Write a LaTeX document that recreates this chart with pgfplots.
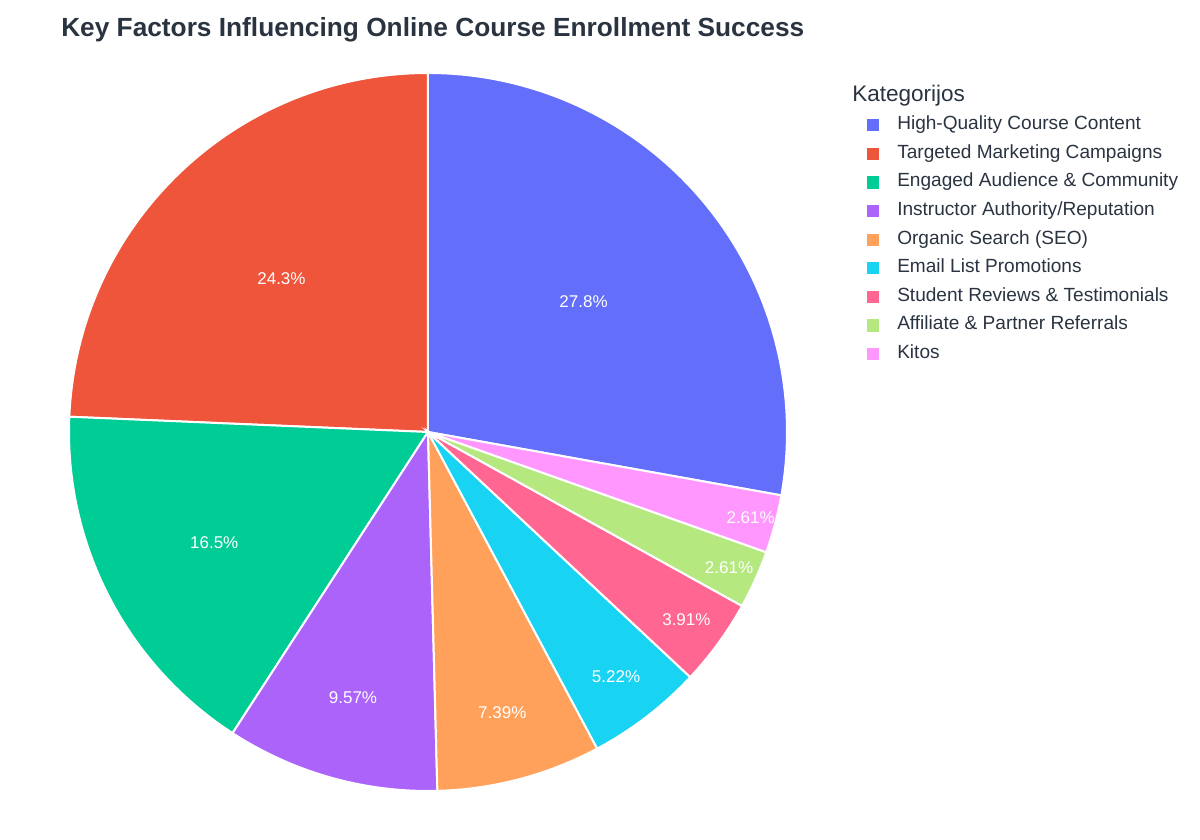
\documentclass[border=0pt]{standalone}
\usepackage{pgfplots}
\pgfplotsset{compat=1.18}
\usepackage{pgfplotstable}
\usepackage{fontspec}
\setmainfont{Liberation Sans}

\definecolor{pie0}{HTML}{636EFA}
\definecolor{pie1}{HTML}{EF553B}
\definecolor{pie2}{HTML}{00CC96}
\definecolor{pie3}{HTML}{AB63FA}
\definecolor{pie4}{HTML}{FFA15A}
\definecolor{pie5}{HTML}{19D3F3}
\definecolor{pie6}{HTML}{FF6692}
\definecolor{pie7}{HTML}{B6E880}
\definecolor{pie8}{HTML}{FF97FF}
\definecolor{txt}{HTML}{2A3441}

% share (percent) and radial position of the inside label (fraction of radius)
\pgfplotstableread[col sep=comma]{
value,tr
27.8,0.565
24.3,0.59
16.5,0.67
9.57,0.77
7.39,0.81
5.22,0.86
3.91,0.89
2.61,0.92
2.61,0.93
}\slices

% slice angles: first slice ends at 12 o'clock, the rest follow counterclockwise
\pgfmathsetmacro\total{0}
\pgfplotsforeachungrouped \i in {0,...,8}{%
  \pgfplotstablegetelem{\i}{value}\of\slices
  \pgfmathsetmacro\total{\total+\pgfplotsretval}}
\pgfplotstablegetelem{0}{value}\of\slices
\pgfmathsetmacro\cum{90-360*\pgfplotsretval/\total}
\pgfplotsforeachungrouped \i in {0,...,8}{%
  \pgfplotstablegetelem{\i}{value}\of\slices
  \expandafter\xdef\csname va\i\endcsname{\pgfplotsretval}
  \pgfmathsetmacro\sweep{360*\pgfplotsretval/\total}
  \expandafter\xdef\csname sa\i\endcsname{\cum}
  \pgfmathsetmacro\mid{\cum+\sweep/2}
  \expandafter\xdef\csname md\i\endcsname{\mid}
  \pgfmathsetmacro\cum{\cum+\sweep}
  \expandafter\xdef\csname ea\i\endcsname{\cum}
  \pgfplotstablegetelem{\i}{tr}\of\slices
  \expandafter\xdef\csname tr\i\endcsname{\pgfplotsretval}
}

\begin{document}
\begin{tikzpicture}
\begin{axis}[
    at={(0,0)}, anchor=south west,
    x=0.75bp, y=0.75bp,
    xmin=0, xmax=1200, ymin=0, ymax=840,
    hide axis, clip=false,
    legend image code/.code={\fill[#1, draw=none] (0bp,-4.6bp) rectangle (9.2bp,4.6bp);},
    legend cell align=left,
    legend style={
        at={(axis cs:867,729)}, anchor=north west,
        draw=none, fill=none, inner sep=0pt, outer sep=0pt,
        font=\fontsize{14.3bp}{16bp}\selectfont, text=txt,
        column sep=13.5bp, row sep=0pt,
        nodes={inner sep=0pt, text height=14bp, text depth=7.45bp},
    },
]
\pgfplotsinvokeforeach{0,...,8}{
  \filldraw[fill=pie#1, draw=white, line width=1.5bp]
    (axis cs:428,408)
    -- (axis cs:{428+359*cos(\csname sa#1\endcsname)},{408+359*sin(\csname sa#1\endcsname)})
    arc[start angle=\csname sa#1\endcsname, end angle=\csname ea#1\endcsname, radius=269.25bp]
    -- cycle;
}
\pgfplotsinvokeforeach{0,...,8}{
  \node[text=white, font=\fontsize{12.75bp}{14bp}\selectfont, inner sep=0pt]
    at (axis cs:{428+359*\csname tr#1\endcsname*cos(\csname md#1\endcsname)},
                {408+359*\csname tr#1\endcsname*sin(\csname md#1\endcsname)})
    {\csname va#1\endcsname\%};
}
\addlegendimage{fill=pie0}\addlegendentry{High-Quality Course Content}
\addlegendimage{fill=pie1}\addlegendentry{Targeted Marketing Campaigns}
\addlegendimage{fill=pie2}\addlegendentry{Engaged Audience \& Community}
\addlegendimage{fill=pie3}\addlegendentry{Instructor Authority/Reputation}
\addlegendimage{fill=pie4}\addlegendentry{Organic Search (SEO)}
\addlegendimage{fill=pie5}\addlegendentry{Email List Promotions}
\addlegendimage{fill=pie6}\addlegendentry{Student Reviews \& Testimonials}
\addlegendimage{fill=pie7}\addlegendentry{Affiliate \& Partner Referrals}
\addlegendimage{fill=pie8}\addlegendentry{Kitos}

\node[anchor=base west, inner sep=0pt, text=txt,
      font=\fontsize{19.7bp}{22bp}\selectfont\bfseries]
  at (axis cs:61,803) {Key Factors Influencing Online Course Enrollment Success};
\node[anchor=base west, inner sep=0pt, text=txt,
      font=\fontsize{16.9bp}{19bp}\selectfont]
  at (axis cs:852,738.3) {Kategorijos};
\end{axis}
\pgfresetboundingbox
\path (0,0) rectangle (900bp,630bp);
\end{tikzpicture}
\end{document}
